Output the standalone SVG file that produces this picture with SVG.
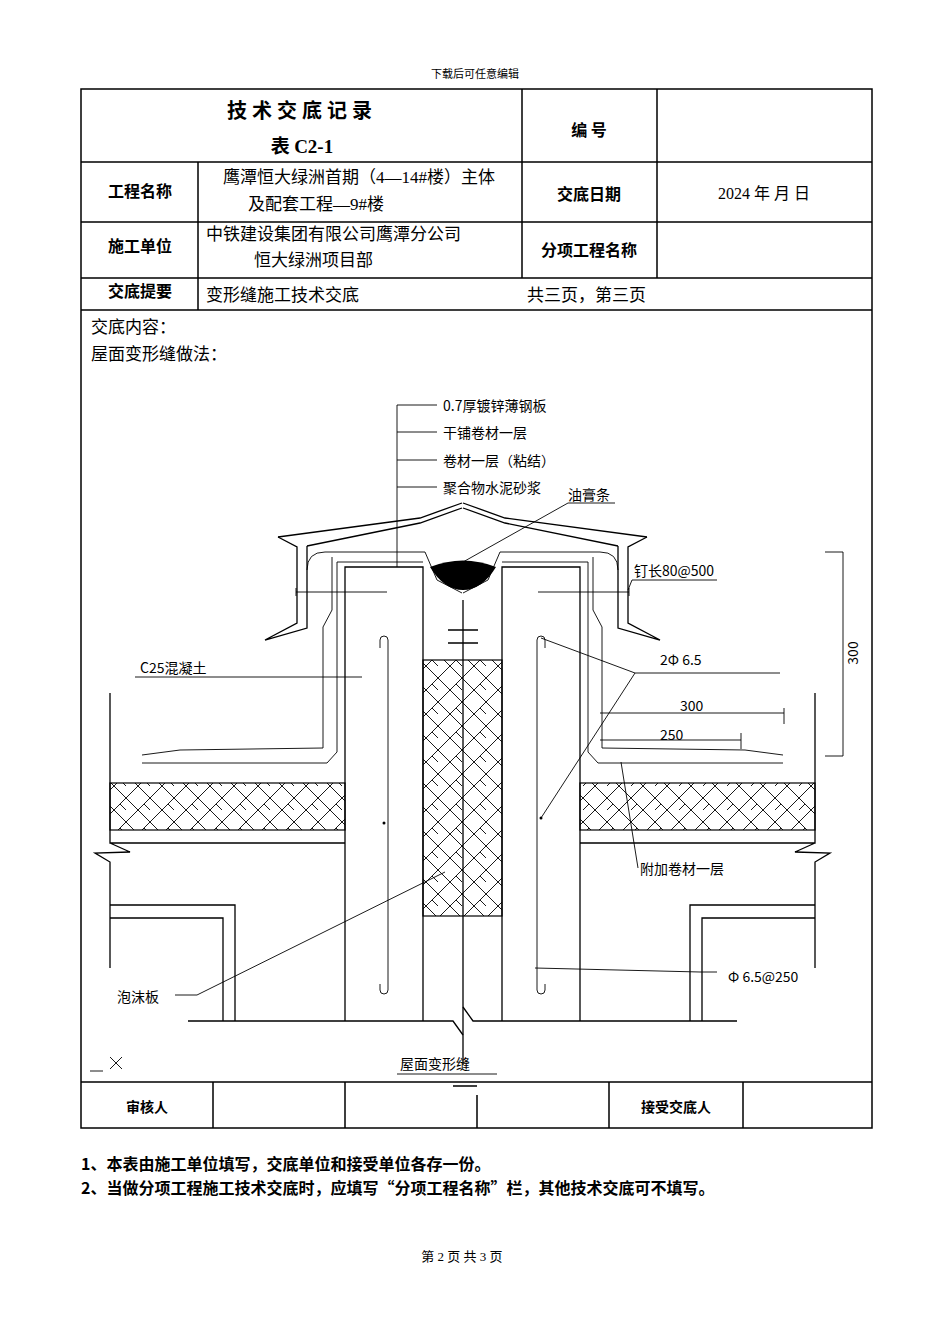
<svg xmlns="http://www.w3.org/2000/svg" width="950" height="1344" viewBox="0 0 950 1344">
<style>
.t{font-family:"Liberation Serif","Noto Sans CJK SC",serif;fill:#000}
.b{font-family:"Noto Sans CJK SC",sans-serif;font-weight:bold;fill:#000}
.d{font-family:"Noto Sans CJK SC","DejaVu Sans",sans-serif;fill:#000;font-size:14px}
.tl{stroke:#000;stroke-width:1.5;fill:none}
.l{stroke:#000;stroke-width:1.3;fill:none}
.s{stroke:#000;stroke-width:0.9;fill:none}
</style>
<defs>
<pattern id="hb" width="24" height="24" patternUnits="userSpaceOnUse">
<path d="M0,12 L12,0 M12,24 L24,12 M0,0 L12,12 M12,12 L24,24 M-6,6 L6,18" stroke="#000" stroke-width="0.9" fill="none"/>
</pattern>
</defs>
<rect width="950" height="1344" fill="#fff"/>
<text class="t" x="475" y="78" font-size="11" text-anchor="middle">下载后可任意编辑</text>
<g id="table">
<rect class="tl" x="81" y="89" width="791" height="1039"/>
<path class="tl" d="M81,162 H872 M81,222 H872 M81,278 H872 M81,310 H872 M198,162 V310 M522,89 V278 M657,89 V278 M81,1082 H872 M213,1082 V1128 M345,1082 V1128 M609,1082 V1128 M743,1082 V1128 M477,1095 V1128 M453,1086 H477"/>
<text class="b" x="302" y="118" font-size="20" text-anchor="middle" letter-spacing="5">技术交底记录</text>
<text class="b" x="302" y="153" font-size="19" text-anchor="middle">表 <tspan font-family="Liberation Serif">C2-1</tspan></text>
<text class="b" x="589" y="136" font-size="16" text-anchor="middle">编 号</text>
<text class="b" x="140" y="197" font-size="16" text-anchor="middle">工程名称</text>
<text class="t" x="359" y="183" font-size="17" text-anchor="middle">鹰潭恒大绿洲首期（4—14#楼）主体</text>
<text class="t" x="316" y="210" font-size="17" text-anchor="middle">及配套工程—9#楼</text>
<text class="b" x="589" y="200" font-size="16" text-anchor="middle">交底日期</text>
<text class="t" x="764" y="199" font-size="16" text-anchor="middle">2024 年  月  日</text>
<text class="b" x="140" y="252" font-size="16" text-anchor="middle">施工单位</text>
<text class="t" x="206" y="240" font-size="17">中铁建设集团有限公司鹰潭分公司</text>
<text class="t" x="254" y="266" font-size="17">恒大绿洲项目部</text>
<text class="b" x="589" y="256" font-size="16" text-anchor="middle">分项工程名称</text>
<text class="b" x="140" y="297" font-size="16" text-anchor="middle">交底提要</text>
<text class="t" x="206" y="301" font-size="17">变形缝施工技术交底</text>
<text class="t" x="527" y="301" font-size="17">共三页，第三页</text>
<text class="t" x="91" y="333" font-size="17">交底内容：</text>
<text class="t" x="91" y="360" font-size="17">屋面变形缝做法：</text>
<text class="b" x="147" y="1112" font-size="14" text-anchor="middle">审核人</text>
<text class="b" x="676" y="1112" font-size="14" text-anchor="middle">接受交底人</text>
</g>
<g id="half-left">
<path class="l" d="M278,537 L420,518 L462,503 M307,546 L420,523 L462,508"/>
<path class="l" d="M278,537 L297,547 V623 L265,640 L307,628 V546"/>
<path class="s" d="M307,570 Q307,552 325,552 H425 L437,580 L462,593"/>
<path class="s" d="M423,562 H337 V752 L327,763 H142"/>
<path class="s" d="M332,557 V610 L323,627 V748 L180,750 L142,755"/>
<path class="l" d="M345,1021 V567 H423 V1021"/>
<path class="s" d="M296,588 V596 M296,592 H387"/>
<rect x="110" y="783" width="235" height="47" fill="url(#hb)" stroke="#000" stroke-width="1.2"/>
<path class="l" d="M110,693 V843 H345 M110,843 L130,852 L95,853 L110,862 V968"/>
<path class="l" d="M110,905 H235 V1021 M110,918 H223 V1021"/>
</g>
<use href="#half-left" transform="matrix(-1 0 0 1 925 0)"/>
<g id="center">
<path d="M430,567 Q463,554 496,567 Q482,590 463,590 Q444,590 430,567 Z" fill="#000"/>
<rect x="423" y="660" width="79" height="256" fill="url(#hb)" stroke="#000" stroke-width="1.2"/>
<path class="l" d="M463,600 V1065 M448,630 H478 M448,643 H478"/>
<path class="l" d="M188,1021 H453 L463,1035 M463,1007 L473,1021 H737"/>
</g>
<g id="rebar">
<path class="s" d="M388,990 V640 A4,4 0 0 0 380,640 V648 M388,990 A4,4 0 0 1 380,990 V984"/>
<circle cx="384" cy="823" r="1.5"/>
<path class="s" d="M537,990 V640 A4,4 0 0 1 545,640 V648 M537,990 A4,4 0 0 0 545,990 V984"/>
<circle cx="541" cy="818" r="1.5"/>
</g>
<g id="connectors">
<path class="s" d="M397,405 V567 M397,405 H437 M397,432 H437 M397,460 H437 M397,487 H437"/>
<path class="s" d="M568,503 H615 M568,503 L463,562"/>
<path class="s" d="M632,580 H717 M632,580 L628,590"/>
<path class="s" d="M780,673 H635 L541,638 M635,673 L541,818"/>
<path class="s" d="M600,713 H784 M784,708 V724 M600,740 H741 M741,733 V749"/>
<path class="s" d="M825,552 H843 V756 H825"/>
<path class="s" d="M135,677 H362"/>
<path class="s" d="M197,995 L445,872 M175,995 H197"/>
<path class="s" d="M621,762 L638,868"/>
<path class="s" d="M535,968 L700,972 H717"/>
<path class="s" d="M397,1074 H497"/>
<path class="s" d="M90,1071 H103 M110,1057 L122,1069 M122,1057 L110,1069"/>
</g>
<g id="labels">
<text class="d" x="443" y="411">0.7厚镀锌薄钢板</text>
<text class="d" x="443" y="438">干铺卷材一层</text>
<text class="d" x="443" y="466">卷材一层（粘结）</text>
<text class="d" x="443" y="493">聚合物水泥砂浆</text>
<text class="d" x="568" y="500">油膏条</text>
<text class="d" x="634" y="576">钉长80@500</text>
<text class="d" x="660" y="665">2Φ 6.5</text>
<text class="d" x="680" y="711" font-size="13">300</text>
<text class="d" x="660" y="740" font-size="13">250</text>
<text class="d" transform="translate(858,653) rotate(-90)" text-anchor="middle" font-size="13">300</text>
<text class="d" x="140" y="673">C25混凝土</text>
<text class="d" x="640" y="874">附加卷材一层</text>
<text class="d" x="728" y="982">Φ 6.5@250</text>
<text class="d" x="117" y="1002">泡沫板</text>
<text class="d" x="400" y="1069">屋面变形缝</text>
</g>
<text class="b" x="81" y="1170" font-size="16">1、本表由施工单位填写，交底单位和接受单位各存一份。</text>
<text class="b" x="81" y="1194" font-size="16">2、当做分项工程施工技术交底时，应填写“分项工程名称”栏，其他技术交底可不填写。</text>
<text class="t" x="462" y="1261" font-size="13" text-anchor="middle">第 2 页 共 3 页</text>
</svg>
